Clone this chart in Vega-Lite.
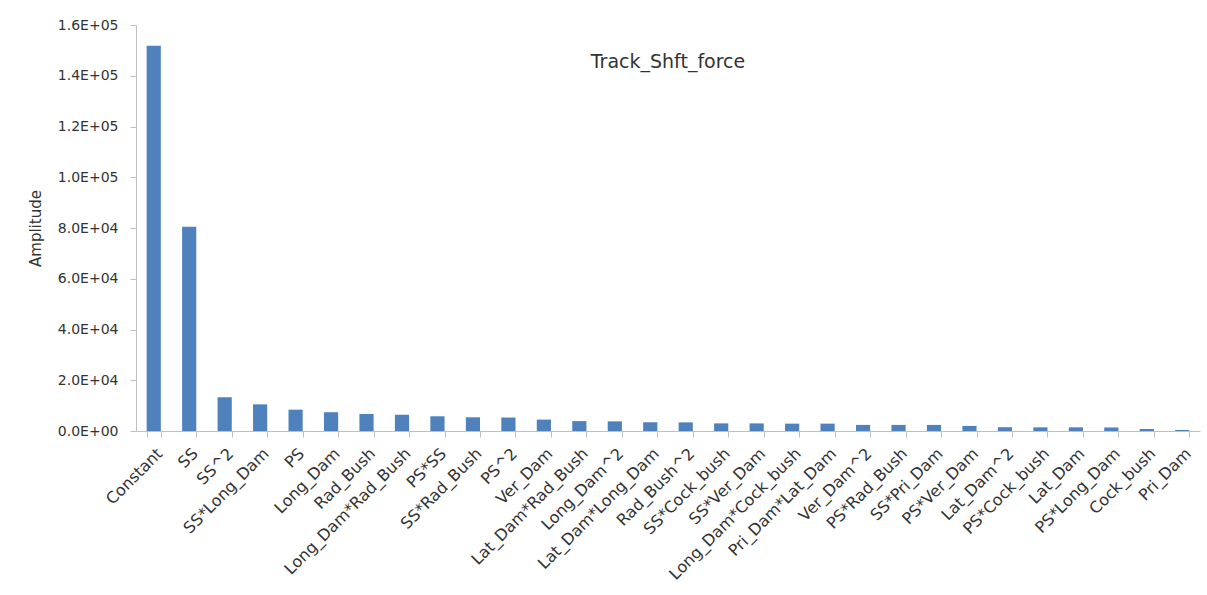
{
  "$schema": "https://vega.github.io/schema/vega-lite/v6.json",
  "autosize": "none",
  "width": 1064,
  "height": 406,
  "padding": {"left": 136, "top": 25, "right": 7, "bottom": 164},
  "background": "white",
  "config": {
    "view": {"stroke": null},
    "font": "DejaVu Sans",
    "axis": {"labelFont": "DejaVu Sans", "titleFont": "DejaVu Sans", "labelColor": "#333333", "titleColor": "#333333", "domainColor": "#bfbfbf", "tickColor": "#bfbfbf", "grid": false}
  },
  "title": {"text": "Track_Shft_force", "orient": "top", "anchor": "middle", "offset": -54, "fontSize": 19, "fontWeight": "normal", "color": "#333333", "font": "DejaVu Sans"},
  "data": {"values": [
    {"term": "Constant", "amp": 151800},
    {"term": "SS", "amp": 80500},
    {"term": "SS^2", "amp": 13300},
    {"term": "SS*Long_Dam", "amp": 10500},
    {"term": "PS", "amp": 8400},
    {"term": "Long_Dam", "amp": 7400},
    {"term": "Rad_Bush", "amp": 6700},
    {"term": "Long_Dam*Rad_Bush", "amp": 6400},
    {"term": "PS*SS", "amp": 5800},
    {"term": "SS*Rad_Bush", "amp": 5400},
    {"term": "PS^2", "amp": 5300},
    {"term": "Ver_Dam", "amp": 4500},
    {"term": "Lat_Dam*Rad_Bush", "amp": 3900},
    {"term": "Long_Dam^2", "amp": 3800},
    {"term": "Lat_Dam*Long_Dam", "amp": 3400},
    {"term": "Rad_Bush^2", "amp": 3400},
    {"term": "SS*Cock_bush", "amp": 3000},
    {"term": "SS*Ver_Dam", "amp": 3000},
    {"term": "Long_Dam*Cock_bush", "amp": 2900},
    {"term": "Pri_Dam*Lat_Dam", "amp": 2900},
    {"term": "Ver_Dam^2", "amp": 2400},
    {"term": "PS*Rad_Bush", "amp": 2400},
    {"term": "SS*Pri_Dam", "amp": 2400},
    {"term": "PS*Ver_Dam", "amp": 2000},
    {"term": "Lat_Dam^2", "amp": 1500},
    {"term": "PS*Cock_bush", "amp": 1450},
    {"term": "Lat_Dam", "amp": 1450},
    {"term": "PS*Long_Dam", "amp": 1400},
    {"term": "Cock_bush", "amp": 800},
    {"term": "Pri_Dam", "amp": 400}
  ]},
  "mark": {"type": "bar", "color": "#4F81BD"},
  "encoding": {
    "x": {
      "field": "term", "type": "nominal", "sort": null,
      "scale": {"paddingInner": 0.6, "paddingOuter": 0.3},
      "axis": {"title": null, "labelAngle": -45, "labelFontSize": 16, "tickBand": "extent", "tickSize": 6, "labelPadding": 8, "labelOverlap": false, "labelLimit": 300}
    },
    "y": {
      "field": "amp", "type": "quantitative",
      "scale": {"domain": [0, 160000], "nice": false},
      "axis": {"title": "Amplitude", "titleFontSize": 15, "titleFontWeight": "normal", "titlePadding": 14, "labelFontSize": 14, "labelOverlap": false, "values": [0, 20000, 40000, 60000, 80000, 100000, 120000, 140000, 160000], "tickSize": 6, "labelPadding": 12, "labelExpr": "replace(format(datum.value, '.1e'), 'e+', 'E+0')"}
    }
  }
}
